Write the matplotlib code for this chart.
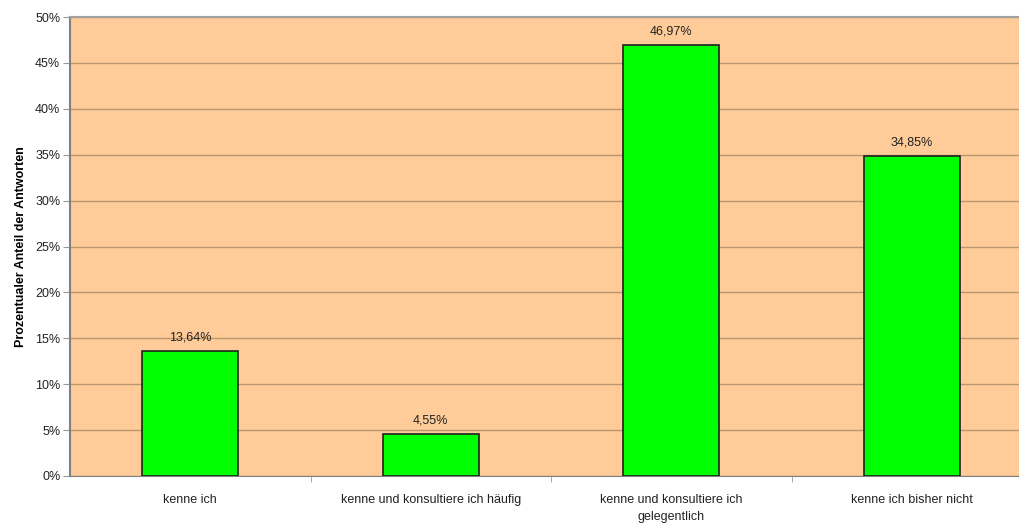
import matplotlib
matplotlib.use("Agg")
import matplotlib.pyplot as plt

categories = ["kenne ich", "kenne und konsultiere ich häufig",
              "kenne und konsultiere ich\ngelegentlich", "kenne ich bisher nicht"]
values = [13.64, 4.55, 46.97, 34.85]
labels = ["13,64%", "4,55%", "46,97%", "34,85%"]

plt.rcParams["font.family"] = ["Liberation Sans", "DejaVu Sans"]

fig = plt.figure(figsize=(10.19, 5.23), dpi=100)
ax = fig.add_axes([70 / 1019, 47 / 523, 962 / 1019, 459 / 523])
ax.set_facecolor("#FFCC99")

x = range(len(categories))
ax.bar(x, values, width=0.4, color="#00FF00", edgecolor="#202020", linewidth=1.2, zorder=3)
for i, v in enumerate(values):
    ax.text(i, v + 0.8, labels[i], ha="center", va="bottom", fontsize=9, color="#222222")

ax.set_xlim(-0.5, 3.5)
ax.set_ylim(0, 50)
ax.set_yticks(range(0, 51, 5))
ax.set_yticklabels([f"{t}%" for t in range(0, 51, 5)], fontsize=9, color="#222222")
ax.grid(axis="y", color="#B8966E", linewidth=1, zorder=1)

ax.set_xticks(list(x))
ax.set_xticklabels(categories, fontsize=9, color="#222222", linespacing=1.6)
ax.set_xticks([0.5, 1.5, 2.5], minor=True)
ax.tick_params(axis="x", which="major", length=0, pad=13)
ax.tick_params(axis="x", which="minor", length=4, color="#999999")
ax.tick_params(axis="y", length=5, color="#999999", pad=2)

ax.spines["right"].set_visible(False)
ax.spines["left"].set_color("#808080")
ax.spines["left"].set_linewidth(1.5)
ax.spines["bottom"].set_color("#808080")
ax.spines["top"].set_color("#A0A0A0")
ax.spines["top"].set_linewidth(1.5)

ax.set_ylabel("Prozentualer Anteil der Antworten", fontsize=9, fontweight="bold", labelpad=6)

fig.savefig("out.png", dpi=100)
